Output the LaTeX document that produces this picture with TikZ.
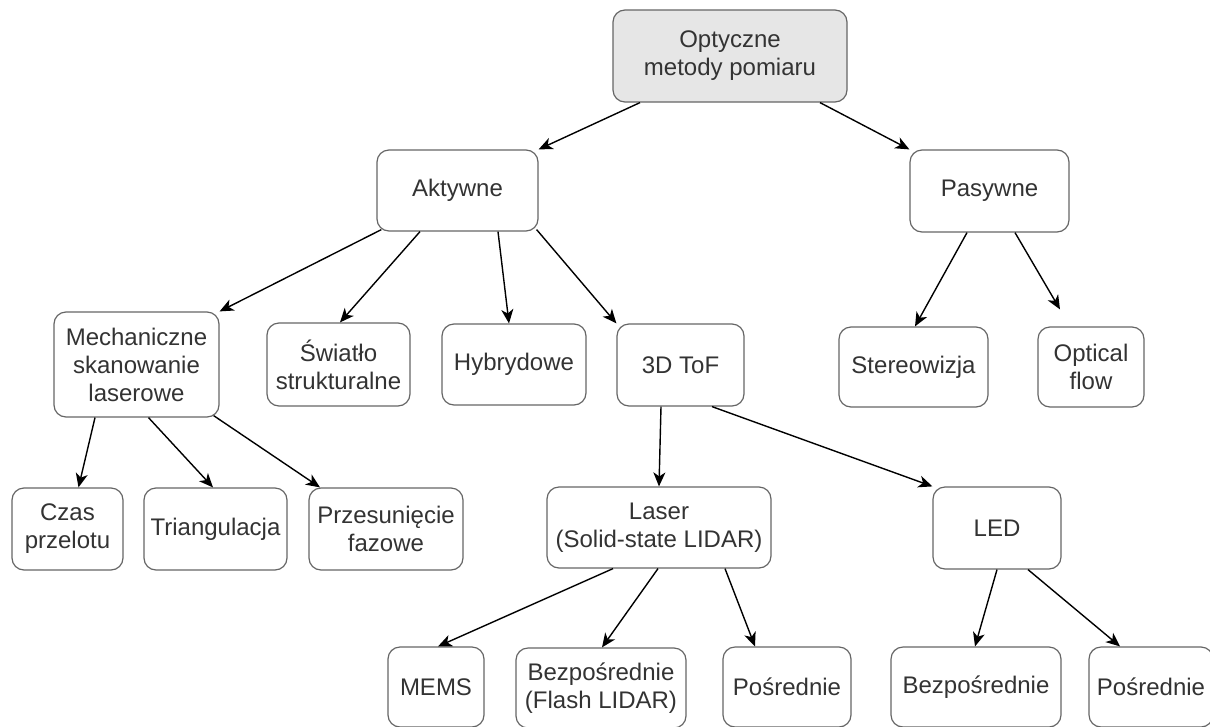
\documentclass[tikz,border=0pt]{standalone}
\usepackage{fontspec}
\setmainfont{Liberation Sans}
\usetikzlibrary{arrows.meta,calc}
\definecolor{bordergray}{HTML}{666666}
\definecolor{txt}{HTML}{333333}
\definecolor{rootfill}{HTML}{E6E6E6}
\begin{document}
\begin{tikzpicture}[x=1pt,y=-1pt,
  box/.style={draw=bordergray, line width=1.2pt, rounded corners=12pt, fill=white,
    text=txt, inner sep=0pt, align=center, font=\fontsize{24}{28}\selectfont},
  conn/.style={line width=1.4pt, -{Stealth[length=14pt,width=12pt,inset=4pt]}}]
\useasboundingbox (0,0) rectangle (1210,726);
\clip (0,0) rectangle (1210,726);

\node[box, fill=rootfill, minimum width=234pt, minimum height=92pt] (root) at (730,56) {Optyczne\\metody pomiaru};
\node[box, minimum width=161pt, minimum height=81pt] (akt) at (457.5,190.5) {Aktywne};
\node[box, minimum width=159pt, minimum height=82pt] (pas) at (989.5,191) {Pasywne};

\node[box, minimum width=165pt, minimum height=105pt] (mech) at (136.5,364.5) {Mechaniczne\\skanowanie\\laserowe};
\node[box, minimum width=143pt, minimum height=83pt] (swi) at (338.5,364.5) {Światło\\strukturalne};
\node[box, minimum width=144pt, minimum height=81pt] (hyb) at (514,364.5) {Hybrydowe};
\node[box, minimum width=127pt, minimum height=82pt] (tof) at (680.5,365) {3D ToF};
\node[box, minimum width=149pt, minimum height=80pt] (ste) at (913.5,367) {Stereowizja};
\node[box, minimum width=106pt, minimum height=80pt] (opt) at (1091,367) {Optical\\flow};

\node[box, minimum width=111pt, minimum height=82pt] (czas) at (67.5,529) {Czas\\przelotu};
\node[box, minimum width=143pt, minimum height=82pt] (tri) at (215.5,529) {Triangulacja};
\node[box, minimum width=154pt, minimum height=82pt] (prz) at (386,529) {Przesunięcie\\fazowe};
\node[box, minimum width=224pt, minimum height=81pt] (las) at (659,527.5) {Laser\\(Solid-state LIDAR)};
\node[box, minimum width=128pt, minimum height=82pt] (led) at (997,528) {LED};

\node[box, minimum width=96pt, minimum height=80pt] (mems) at (436,687) {MEMS};
\node[box, minimum width=170pt, minimum height=80pt] (bzf) at (601,688) {Bezpośrednie\\(Flash LIDAR)};
\node[box, minimum width=128pt, minimum height=80pt] (posl) at (787,687) {Pośrednie};
\node[box, minimum width=170pt, minimum height=80pt] (bzl) at (976,687) {Bezpośrednie};
\node[box, minimum width=124pt, minimum height=80pt] (posr) at (1151,687) {Pośrednie};

\coordinate (optend) at ([xshift=-31pt,yshift=17pt]opt.north);

\draw[conn] ([xshift=-90pt]root.south) -- (akt.north east);
\draw[conn] ([xshift=90pt]root.south) -- (pas.north west);
\draw[conn] ([xshift=5pt,yshift=2pt]akt.south west) -- (mech.north east);
\draw[conn] ([xshift=-37.5pt]akt.south) -- ([xshift=1.5pt]swi.north);
\draw[conn] ([xshift=40.5pt]akt.south) -- ([xshift=-5pt]hyb.north);
\draw[conn] ([xshift=-2pt,yshift=2pt]akt.south east) -- (tof.north west);
\draw[conn] ([xshift=-22.5pt]pas.south) -- ([xshift=1.5pt]ste.north);
\draw[conn] ([xshift=25.5pt]pas.south) -- (optend);
\draw[conn] ([xshift=-41.5pt]mech.south) -- ([xshift=11pt]czas.north);
\draw[conn] ([xshift=12pt]mech.south) -- ([xshift=-2.5pt]tri.north);
\draw[conn] ([xshift=-6pt,yshift=2pt]mech.south east) -- ([xshift=-66pt]prz.north);
\draw[conn] ([xshift=-19.5pt]tof.south) -- (las.north);
\draw[conn] ([xshift=31.5pt]tof.south) -- (led.north west);
\draw[conn] ([xshift=-46pt]las.south) -- ([xshift=2pt]mems.north);
\draw[conn] ([xshift=-1pt]las.south) -- ([xshift=1pt]bzf.north);
\draw[conn] ([xshift=66pt]las.south) -- ([xshift=-32pt]posl.north);
\draw[conn] (led.south) -- ([xshift=-1pt]bzl.north);
\draw[conn] ([xshift=31pt]led.south) -- ([xshift=-31pt]posr.north);
\end{tikzpicture}
\end{document}
